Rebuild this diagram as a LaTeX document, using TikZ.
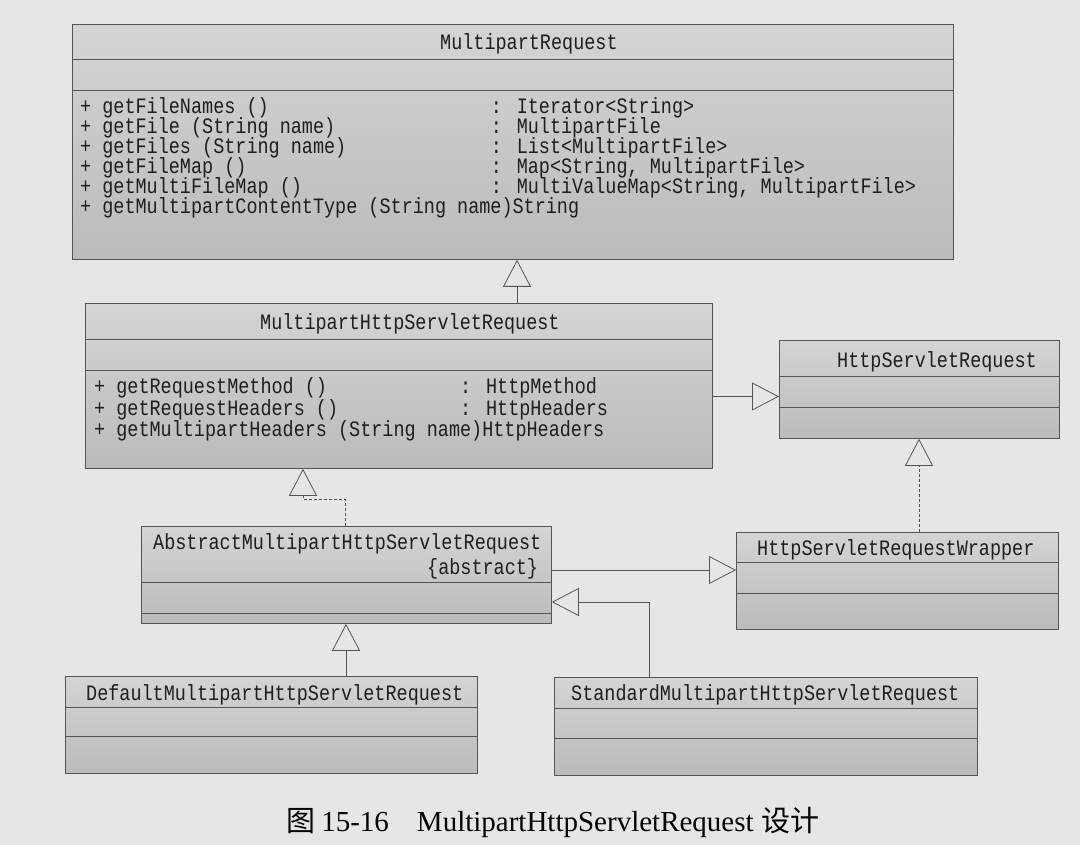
\documentclass[tikz,border=0pt]{standalone}
\usepackage{fontspec}
\setmainfont{Liberation Serif}
\newfontfamily\umlfont{Liberation Mono}[FakeStretch=0.84]
\newfontfamily\cjkfont{Noto Sans CJK SC}
\usetikzlibrary{arrows.meta,calc}
\definecolor{bg}{HTML}{E6E6E6}
\definecolor{boxtop}{HTML}{D4D4D4}
\definecolor{boxbot}{HTML}{BBBBBB}
\definecolor{linec}{HTML}{555555}
\definecolor{txtc}{HTML}{1E1E1E}
\begin{document}
\begin{tikzpicture}[x=1pt,y=-1pt,
  box/.style={draw=linec, line width=0.8pt, top color=boxtop, bottom color=boxbot, inner sep=0pt, anchor=north west},
  sepl/.style={draw=linec, line width=0.7pt},
  txt/.style={anchor=west, inner sep=0pt, text height=15pt, text depth=0pt, font=\umlfont\fontsize{22pt}{22pt}\selectfont, text=txtc},
  gen/.style={draw=linec, line width=0.8pt, -{Triangle[open, length=27pt, width=28pt, line width=0.8pt]}},
  real/.style={gen, dash pattern=on 3pt off 2pt}]
\fill[bg] (0,0) rectangle (1080,845);
\useasboundingbox (0,0) rectangle (1080,845);

% ---------- class boxes ----------
\node[box, minimum width=881pt, minimum height=235pt] (mr) at (72,24) {};
\draw[sepl] (mr.west |- 0,59) -- (mr.east |- 0,59);
\draw[sepl] (mr.west |- 0,90) -- (mr.east |- 0,90);

\node[box, minimum width=627pt, minimum height=165pt] (mhsr) at (85,303) {};
\draw[sepl] (mhsr.west |- 0,339) -- (mhsr.east |- 0,339);
\draw[sepl] (mhsr.west |- 0,370) -- (mhsr.east |- 0,370);

\node[box, minimum width=280pt, minimum height=98pt] (hsr) at (779,340) {};
\draw[sepl] (hsr.west |- 0,376) -- (hsr.east |- 0,376);
\draw[sepl] (hsr.west |- 0,407) -- (hsr.east |- 0,407);

\node[box, minimum width=322pt, minimum height=97pt] (hsrw) at (736,532) {};
\draw[sepl] (hsrw.west |- 0,562) -- (hsrw.east |- 0,562);
\draw[sepl] (hsrw.west |- 0,593) -- (hsrw.east |- 0,593);

\node[box, minimum width=410pt, minimum height=97pt] (abs) at (141,526) {};
\draw[sepl] (abs.west |- 0,582) -- (abs.east |- 0,582);
\draw[sepl] (abs.west |- 0,613) -- (abs.east |- 0,613);

\node[box, minimum width=412pt, minimum height=97pt] (def) at (65,676) {};
\draw[sepl] (def.west |- 0,707) -- (def.east |- 0,707);
\draw[sepl] (def.west |- 0,736) -- (def.east |- 0,736);

\node[box, minimum width=423pt, minimum height=98pt] (std) at (554,677) {};
\draw[sepl] (std.west |- 0,708) -- (std.east |- 0,708);
\draw[sepl] (std.west |- 0,738) -- (std.east |- 0,738);

% ---------- texts ----------
\node[txt] (mr-t) at (440,42) {MultipartRequest};
\node[txt] (mr-n1) at (80,106) {+ getFileNames ()};
\node[txt] (mr-r1) at (490.7,106) {: Iterator<String>};
\node[txt] (mr-n2) at (80,126) {+ getFile (String name)};
\node[txt] (mr-r2) at (490.7,126) {: MultipartFile};
\node[txt] (mr-n3) at (80,146) {+ getFiles (String name)};
\node[txt] (mr-r3) at (490.7,146) {: List<MultipartFile>};
\node[txt] (mr-n4) at (80,166) {+ getFileMap ()};
\node[txt] (mr-r4) at (490.7,166) {: Map<String, MultipartFile>};
\node[txt] (mr-n5) at (80,186) {+ getMultiFileMap ()};
\node[txt] (mr-r5) at (490.7,186) {: MultiValueMap<String, MultipartFile>};
\node[txt] (mr-n6) at (80,206.5) {+ getMultipartContentType (String name)String};

\node[txt] (mhsr-t) at (260,322) {MultipartHttpServletRequest};
\node[txt] (mhsr-n1) at (94,386) {+ getRequestMethod ()};
\node[txt] (mhsr-r1) at (460,386) {: HttpMethod};
\node[txt] (mhsr-n2) at (94,407.5) {+ getRequestHeaders ()};
\node[txt] (mhsr-r2) at (460,407.5) {: HttpHeaders};
\node[txt] (mhsr-n3) at (94,429) {+ getMultipartHeaders (String name)HttpHeaders};

\node[txt] (hsr-t) at (837,360) {HttpServletRequest};
\node[txt] (hsrw-t) at (757,548) {HttpServletRequestWrapper};
\node[txt] (abs-t) at (153,542) {AbstractMultipartHttpServletRequest};
\node[txt] (abs-s) at (427,567) {\{abstract\}};
\node[txt] (def-t) at (86,693) {DefaultMultipartHttpServletRequest};
\node[txt] (std-t) at (571,693) {StandardMultipartHttpServletRequest};

% ---------- connectors ----------
\coordinate (c-mhsr-top) at (517,303);
\draw[gen] (c-mhsr-top) -- (c-mhsr-top |- mr.south);

\coordinate (c-mhsr-right) at (712,396.5);
\draw[gen] (c-mhsr-right) -- (c-mhsr-right -| hsr.west);

\coordinate (c-hsrw-top) at (919,532);
\draw[real] (c-hsrw-top) -- (c-hsrw-top |- hsr.south);

\coordinate (c-abs-top) at (345,526);
\coordinate (c-abs-bend) at (303,499);
\draw[real] (c-abs-top) |- (c-abs-bend) -- (c-abs-bend |- mhsr.south);

\coordinate (c-abs-right) at (551,570);
\draw[gen] (c-abs-right) -- (c-abs-right -| hsrw.west);

\coordinate (c-def-top) at (346,676);
\draw[gen] (c-def-top) -- (c-def-top |- abs.south);

\coordinate (c-std-top) at (649,677);
\coordinate (c-std-bend) at (649,602);
\draw[gen] (c-std-top) -- (c-std-bend) -- (c-std-bend -| abs.east);

% ---------- caption ----------
\node[inner sep=0pt, text=black, font=\fontsize{29pt}{29pt}\selectfont] (cap) at (553,822)
  {{\cjkfont 图}\hspace{6pt}15-16\hspace{28pt}MultipartHttpServletRequest\hspace{8pt}{\cjkfont 设计}};
\end{tikzpicture}
\end{document}
